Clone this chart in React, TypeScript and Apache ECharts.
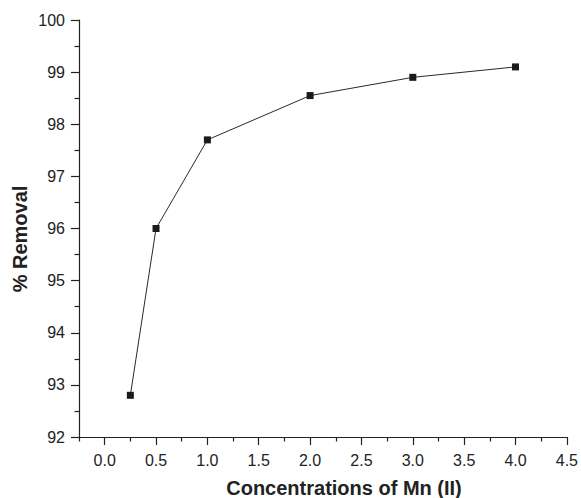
import React, { useEffect, useRef } from "react";
import * as echarts from "echarts";

const concentrations = [0.25, 0.5, 1.0, 2.0, 3.0, 4.0];
const removal = [92.8, 96.0, 97.7, 98.55, 98.9, 99.1];
const xMajorTicks = [0, 0.5, 1, 1.5, 2, 2.5, 3, 3.5, 4, 4.5];
const xMinorTicks = [-0.25, 0.25, 0.75, 1.25, 1.75, 2.25, 2.75, 3.25, 3.75, 4.25];
const xTitle = "Concentrations of Mn (II)";
const yTitle = "% Removal";

export default function App() {
  const ref = useRef<HTMLDivElement>(null);
  useEffect(() => {
    if (!ref.current) return;
    const chart = echarts.init(ref.current, null, { renderer: "svg" });
    const font = "Liberation Sans, Arial, Helvetica, sans-serif";
    const axisColor = "#222";
    chart.setOption({
      animation: false,
      backgroundColor: "#ffffff",
      grid: { left: 79, right: 14, top: 20, bottom: 61, containLabel: false },
      xAxis: [
        {
          type: "value",
          min: -0.25,
          max: 4.5,
          axisLine: { show: true, onZero: false, lineStyle: { color: axisColor, width: 1.2 } },
          axisTick: { show: true, inside: false, length: 8, lineStyle: { color: axisColor, width: 1.2 }, customValues: xMajorTicks },
          axisLabel: {
            color: axisColor,
            fontSize: 16,
            fontFamily: font,
            margin: 15,
            customValues: xMajorTicks,
            formatter: (v: number) => v.toFixed(1),
          },
          splitLine: { show: false },
        },
        {
          type: "value",
          min: -0.25,
          max: 4.5,
          position: "bottom",
          axisLine: { show: false, onZero: false },
          axisTick: { show: true, inside: false, length: 4.5, lineStyle: { color: axisColor, width: 1.2 }, customValues: xMinorTicks },
          axisLabel: { show: false },
          splitLine: { show: false },
        },
      ],
      yAxis: {
        type: "value",
        min: 92,
        max: 100,
        interval: 1,
        axisLine: { show: true, onZero: false, lineStyle: { color: axisColor, width: 1.2 } },
        axisTick: { show: true, inside: false, length: 8, lineStyle: { color: axisColor, width: 1.2 } },
        minorTick: { show: true, splitNumber: 2, length: 4.5, lineStyle: { color: axisColor, width: 1.2 } },
        axisLabel: { color: axisColor, fontSize: 16, fontFamily: font, margin: 14 },
        splitLine: { show: false },
      },
      graphic: [
        {
          type: "text",
          x: 344,
          y: 488,
          style: {
            text: xTitle,
            fontSize: 20,
            fontWeight: "bold",
            fontFamily: font,
            fill: axisColor,
            align: "center",
            verticalAlign: "middle",
          },
        },
        {
          type: "text",
          x: 20,
          y: 239,
          rotation: Math.PI / 2,
          style: {
            text: yTitle,
            fontSize: 20,
            fontWeight: "bold",
            fontFamily: font,
            fill: axisColor,
            align: "center",
            verticalAlign: "middle",
          },
        },
      ],
      series: [
        {
          type: "line",
          xAxisIndex: 0,
          data: concentrations.map((c, i) => [c, removal[i]]),
          symbol: "rect",
          symbolSize: 7,
          itemStyle: { color: "#1a1a1a" },
          lineStyle: { color: "#2a2a2a", width: 1 },
        },
      ],
    });
    return () => chart.dispose();
  }, []);
  return <div ref={ref} style={{ width: 581, height: 498, position: "absolute", left: 0, top: 0 }} />;
}
